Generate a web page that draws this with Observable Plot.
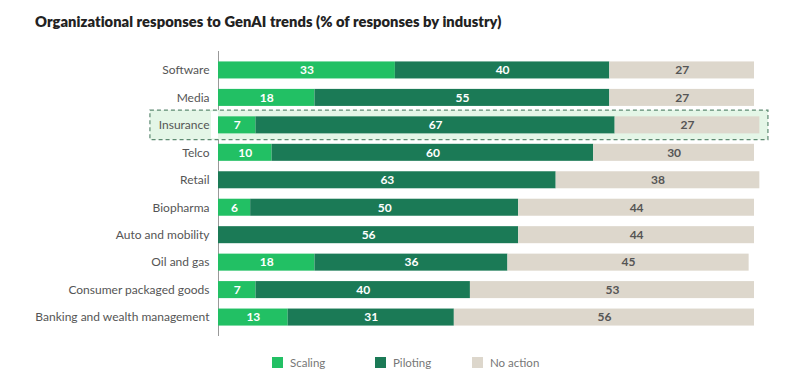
<!DOCTYPE html>
<html>
<head>
<meta charset="utf-8">
<script src="https://cdn.jsdelivr.net/npm/d3@7"></script>
<script src="https://cdn.jsdelivr.net/npm/@observablehq/plot@0.6"></script>
<style>
  html, body { margin: 0; padding: 0; background: #fff; }
  body { width: 796px; height: 391px; overflow: hidden; font-family: Lato, sans-serif; }
  #title { height: 40px; box-sizing: border-box; padding: 12px 0 0 35px; font-family: Lato, sans-serif; font-weight: 800; font-size: 14.7px; color: #222; letter-spacing: 0.05px; }
  #legend { position: relative; height: 51px; }
  .item { position: absolute; top: 16px; display: flex; align-items: center; font-size: 11.5px; color: #777; }
  .sw { width: 11px; height: 11px; margin-right: 7px; }
</style>
</head>
<body>
<div id="title">Organizational responses to GenAI trends (% of responses by industry)</div>
<div id="chart"></div>
<div id="legend"></div>
<script>
const industries = ["Software", "Media", "Insurance", "Telco", "Retail", "Biopharma", "Auto and mobility", "Oil and gas", "Consumer packaged goods", "Banking and wealth management"];
const seriesNames = ["Scaling", "Piloting", "No action"];
const scaling  = [33, 18, 7, 10, 0, 6, 0, 18, 7, 13];
const piloting = [40, 55, 67, 60, 63, 50, 56, 36, 40, 31];
const noAction = [27, 27, 27, 30, 38, 44, 44, 45, 53, 56];
const colors = ["#22c064", "#1b7a56", "#ddd7cc"];
const textColors = ["#ffffff", "#ffffff", "#555555"];
const highlighted = ["Insurance"];

const seriesValues = [scaling, piloting, noAction];
const data = [];
industries.forEach((ind, i) => {
  seriesNames.forEach((s, j) => {
    data.push({industry: ind, series: s, value: seriesValues[j][i]});
  });
});

const chart = Plot.plot({
  width: 796,
  height: 300,
  marginTop: 11,
  marginBottom: 4,
  marginLeft: 218,
  marginRight: 42,
  style: {fontFamily: "Lato, sans-serif", fontSize: "12px", color: "#555", background: "transparent"},
  x: {domain: [0, 100], axis: null},
  y: {domain: industries, padding: 0.38, round: false, label: null, tickSize: 0, tickPadding: 9},
  color: {domain: seriesNames, range: colors},
  marks: [
    Plot.ruleX([0], {stroke: "#999", strokeWidth: 1}),
    Plot.barX(highlighted.map(d => ({industry: d})), {
      y: "industry", x1: () => -12.7, x2: () => 102.6,
      insetTop: -6.3, insetBottom: -6.3,
      fill: "#e4f6e7", stroke: "#5e8a72", strokeWidth: 1.2, strokeDasharray: "4,3"
    }),
    Plot.barX(highlighted.map(d => ({industry: d})), {
      y: "industry", x1: () => -1.3, x2: () => 0,
      insetTop: -5, insetBottom: -5, fill: "#fff"
    }),
    Plot.barX(data, Plot.stackX({x: "value", y: "industry", fill: "series", order: seriesNames})),
    Plot.axisY({tickSize: 0, tickPadding: 9, fontSize: 12, fill: "#555"}),
    Plot.text(data, Plot.stackX({
      x: "value", y: "industry", z: "series", order: seriesNames,
      text: d => d.value > 0 ? String(d.value) : "",
      fill: d => textColors[seriesNames.indexOf(d.series)],
      fontWeight: "bold", fontSize: 12
    }))
  ]
});
document.getElementById("chart").appendChild(chart);

const legend = document.getElementById("legend");
const lefts = [272, 375, 472];
seriesNames.forEach((s, i) => {
  const it = document.createElement("div");
  it.className = "item";
  it.style.left = lefts[i] + "px";
  it.innerHTML = `<span class="sw" style="background:${colors[i]}"></span><span>${s}</span>`;
  legend.appendChild(it);
});
</script>
</body>
</html>
